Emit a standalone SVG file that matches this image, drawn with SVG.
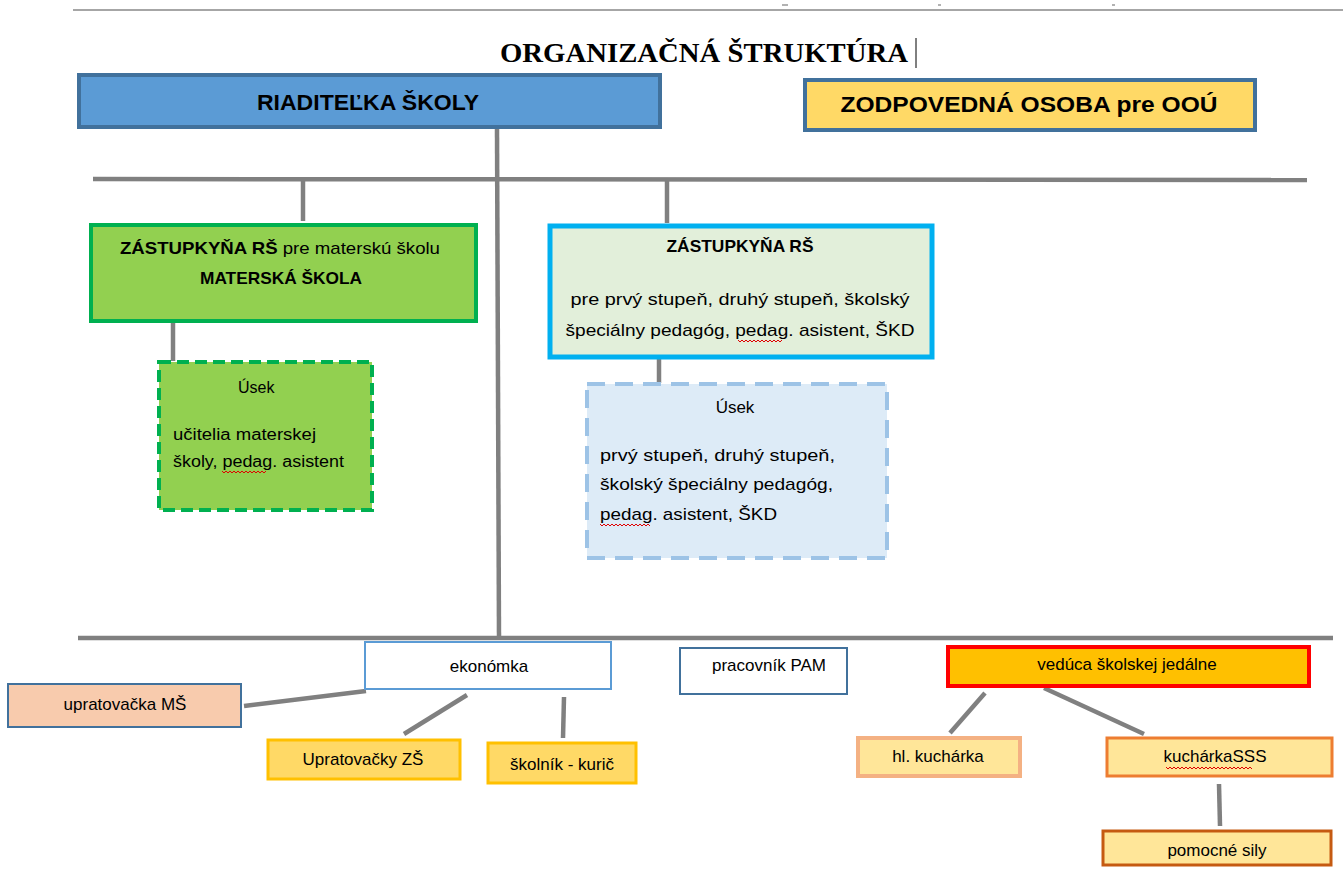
<svg xmlns="http://www.w3.org/2000/svg" width="1343" height="869" viewBox="0 0 1343 869">
<style>
text{font-family:"Liberation Sans",Arial,sans-serif;fill:#000}
.c{stroke:#808080;stroke-width:4.5;fill:none}
.t{font-size:17px}
.b{font-weight:bold}
.sq{stroke:#e00000;stroke-width:1;fill:none}
</style>
<rect width="1343" height="869" fill="#fff"/>
<line x1="73" y1="10" x2="1343" y2="10" stroke="#a6a6a6" stroke-width="2"/>
<g stroke="#7f7f7f" stroke-width="1.2">
<line x1="782" y1="5" x2="788" y2="5"/><line x1="938" y1="5" x2="941" y2="5"/><line x1="1112" y1="5" x2="1115" y2="5"/>
</g>
<text x="500" y="62" font-weight="bold" font-size="28" textLength="408" lengthAdjust="spacingAndGlyphs" style="font-family:'Liberation Serif',serif">ORGANIZAČNÁ ŠTRUKTÚRA</text>
<line x1="916" y1="38" x2="916" y2="68" stroke="#000" stroke-width="1"/>

<g id="connectors">
<line class="c" x1="497" y1="129" x2="499" y2="638"/>
<line class="c" x1="93" y1="179" x2="1307" y2="180"/>
<line class="c" x1="303" y1="179" x2="303" y2="221"/>
<line class="c" x1="667" y1="180" x2="667" y2="223"/>
<line class="c" x1="173" y1="323" x2="173" y2="361"/>
<line class="c" x1="659" y1="359" x2="659" y2="383"/>
<line class="c" x1="78" y1="638" x2="1333" y2="638"/>
<line class="c" x1="366" y1="691" x2="244" y2="706"/>
<line class="c" x1="467" y1="695" x2="404" y2="734"/>
<line class="c" x1="564" y1="697" x2="563" y2="738"/>
<line class="c" x1="985" y1="693" x2="950" y2="733"/>
<line class="c" x1="1044" y1="688" x2="1144" y2="734"/>
<line class="c" x1="1219" y1="784" x2="1220" y2="826"/>
</g>

<g id="riaditelka">
<rect x="79" y="75" width="581" height="52" fill="#5b9bd5" stroke="#41719c" stroke-width="4"/>
<text x="368" y="110" class="b" font-size="22" text-anchor="middle" textLength="222" lengthAdjust="spacingAndGlyphs">RIADITEĽKA ŠKOLY</text>
</g>
<g id="zodpovedna">
<rect x="805" y="80" width="450" height="50" fill="#ffd966" stroke="#41719c" stroke-width="4"/>
<text x="1029" y="112" class="b" font-size="22" text-anchor="middle" textLength="377" lengthAdjust="spacingAndGlyphs">ZODPOVEDNÁ OSOBA pre OOÚ</text>
</g>

<g id="zastupkyna-ms">
<rect x="91" y="225" width="385" height="96" fill="#92d050" stroke="#00b050" stroke-width="4"/>
<text x="120" y="254" font-size="17" textLength="320" lengthAdjust="spacingAndGlyphs"><tspan class="b">ZÁSTUPKYŇA RŠ</tspan> pre materskú školu</text>
<text x="281" y="284" class="b" font-size="17" text-anchor="middle" textLength="162" lengthAdjust="spacingAndGlyphs">MATERSKÁ ŠKOLA</text>
</g>
<g id="usek-ms">
<rect x="159" y="362" width="213" height="148" fill="#92d050" stroke="#00b050" stroke-width="4" stroke-dasharray="12 6"/>
<text x="238" y="393" font-size="16">Úsek</text>
<text x="173" y="440" font-size="16" textLength="143" lengthAdjust="spacingAndGlyphs">učitelia materskej</text>
<text x="173" y="467" font-size="16" textLength="171" lengthAdjust="spacingAndGlyphs">školy, pedag. asistent</text>
<path class="sq" d="M222 471 l2 2 l2 -2 l2 2 l2 -2 l2 2 l2 -2 l2 2 l2 -2 l2 2 l2 -2 l2 2 l2 -2 l2 2 l2 -2 l2 2 l2 -2 l2 2 l2 -2 l2 2 l2 -2 l2 2 l2 -2"/>
</g>

<g id="zastupkyna-zs">
<rect x="550" y="226" width="382" height="131" fill="#e2efda" stroke="#00b0f0" stroke-width="5"/>
<text x="740" y="252" class="b" font-size="17" text-anchor="middle" textLength="147" lengthAdjust="spacingAndGlyphs">ZÁSTUPKYŇA RŠ</text>
<text x="740" y="305" font-size="17" text-anchor="middle" textLength="339" lengthAdjust="spacingAndGlyphs">pre prvý stupeň, druhý stupeň, školský</text>
<text x="740" y="336" font-size="17" text-anchor="middle" textLength="349" lengthAdjust="spacingAndGlyphs">špeciálny pedagóg, pedag. asistent, ŠKD</text>
<path class="sq" d="M738 340 l2 2 l2 -2 l2 2 l2 -2 l2 2 l2 -2 l2 2 l2 -2 l2 2 l2 -2 l2 2 l2 -2 l2 2 l2 -2 l2 2 l2 -2 l2 2 l2 -2 l2 2 l2 -2 l2 2 l2 -2"/>
</g>
<g id="usek-zs">
<rect x="587" y="384" width="300" height="174" fill="#ddebf7" stroke="#9dc3e6" stroke-width="4" stroke-dasharray="18 10"/>
<text x="735" y="413" font-size="17" text-anchor="middle">Úsek</text>
<text x="600" y="461" font-size="17" textLength="235" lengthAdjust="spacingAndGlyphs">prvý stupeň, druhý stupeň,</text>
<text x="600" y="490" font-size="17" textLength="233" lengthAdjust="spacingAndGlyphs">školský špeciálny pedagóg,</text>
<text x="600" y="520" font-size="17" textLength="177" lengthAdjust="spacingAndGlyphs">pedag. asistent, ŠKD</text>
<path class="sq" d="M600 524 l2 2 l2 -2 l2 2 l2 -2 l2 2 l2 -2 l2 2 l2 -2 l2 2 l2 -2 l2 2 l2 -2 l2 2 l2 -2 l2 2 l2 -2 l2 2 l2 -2 l2 2 l2 -2 l2 2 l2 -2 l2 2 l2 -2 l2 2"/>
</g>

<g id="ekonomka">
<rect x="365" y="642" width="246" height="47" fill="#fff" stroke="#5b9bd5" stroke-width="2"/>
<text x="489" y="672" class="t" text-anchor="middle">ekonómka</text>
</g>
<g id="upratovacka-ms">
<rect x="8" y="684" width="233" height="43" fill="#f8cbad" stroke="#41719c" stroke-width="2"/>
<text x="125" y="710" class="t" text-anchor="middle">upratovačka MŠ</text>
</g>
<g id="upratovacky-zs">
<rect x="268" y="740" width="192" height="39" fill="#ffd966" stroke="#ffc000" stroke-width="3"/>
<text x="363" y="765" class="t" text-anchor="middle">Upratovačky ZŠ</text>
</g>
<g id="skolnik">
<rect x="488" y="743" width="148" height="40" fill="#ffd966" stroke="#ffc000" stroke-width="3"/>
<text x="562" y="770" class="t" text-anchor="middle">školník - kurič</text>
</g>
<g id="pam">
<rect x="680" y="648" width="167" height="46" fill="#fff" stroke="#41719c" stroke-width="2"/>
<text x="769" y="671" class="t" text-anchor="middle">pracovník PAM</text>
</g>
<g id="veduca">
<rect x="948" y="647" width="361" height="39" fill="#ffc000" stroke="#ff0000" stroke-width="4"/>
<text x="1127" y="670" class="t" text-anchor="middle">vedúca školskej jedálne</text>
</g>
<g id="hl-kucharka">
<rect x="858" y="738" width="162" height="38" fill="#ffe699" stroke="#f4b183" stroke-width="4"/>
<text x="938" y="762" class="t" text-anchor="middle">hl. kuchárka</text>
</g>
<g id="kucharka-sss">
<rect x="1107" y="738" width="225" height="38" fill="#ffe699" stroke="#ed7d31" stroke-width="3"/>
<text x="1215" y="762" class="t" text-anchor="middle">kuchárkaSSS</text>
<path class="sq" d="M1166 767 l2 2 l2 -2 l2 2 l2 -2 l2 2 l2 -2 l2 2 l2 -2 l2 2 l2 -2 l2 2 l2 -2 l2 2 l2 -2 l2 2 l2 -2 l2 2 l2 -2 l2 2 l2 -2 l2 2 l2 -2 l2 2 l2 -2 l2 2 l2 -2 l2 2 l2 -2 l2 2 l2 -2 l2 2 l2 -2 l2 2 l2 -2 l2 2 l2 -2 l2 2 l2 -2 l2 2 l2 -2 l2 2 l2 -2 l2 2"/>
</g>
<g id="pomocne-sily">
<rect x="1103" y="831" width="228" height="34" fill="#ffe699" stroke="#c55a11" stroke-width="3"/>
<text x="1217" y="856" class="t" text-anchor="middle">pomocné sily</text>
</g>
</svg>
